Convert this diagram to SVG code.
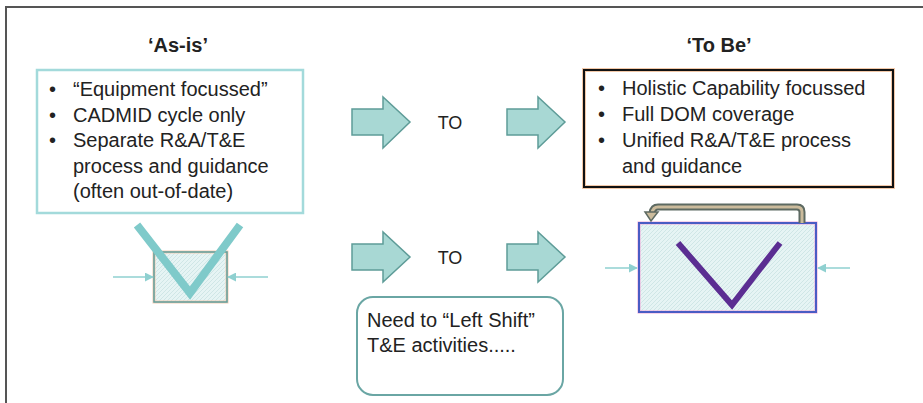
<svg xmlns="http://www.w3.org/2000/svg" width="923" height="403" viewBox="0 0 923 403">
  <defs>
    <style>
      .t { font-family: "Liberation Sans", Arial, sans-serif; fill: #222; }
      .title { font-size: 20px; font-weight: bold; }
      .body { font-size: 20px; }
      .to { font-size: 18px; }
      .blk { fill: #a8d8d4; stroke: #5e9c98; stroke-width: 1.5; }
      .thin { stroke: #8fd0d0; stroke-width: 1.5; fill: none; }
    </style>
    <marker id="ah" viewBox="0 0 10 10" refX="9" refY="5" markerWidth="6" markerHeight="6" orient="auto">
      <path d="M0,0 L10,5 L0,10 z" fill="#8fd0d0"/>
    </marker>
    <pattern id="hatch" width="4" height="4" patternUnits="userSpaceOnUse">
      <rect width="4" height="4" fill="#e6f4f4"/>
      <path d="M0,4 L4,0" stroke="#cfe6e6" stroke-width="1"/>
    </pattern>
  </defs>
  <rect width="923" height="403" fill="#fff"/>

  <!-- frame -->
  <path d="M6,403 L6,7 L923,7" fill="none" stroke="#555" stroke-width="2"/>

  <g id="as-is">
    <text class="t title" x="178" y="52" text-anchor="middle">‘As-is’</text>
    <rect x="37" y="70" width="266" height="143" fill="#fff" stroke="#a3dadb" stroke-width="2.5"/>
    <text class="t body" x="49" y="96">•</text>
    <text class="t body" x="73" y="96">“Equipment focussed”</text>
    <text class="t body" x="49" y="122">•</text>
    <text class="t body" x="73" y="122">CADMID cycle only</text>
    <text class="t body" x="49" y="147">•</text>
    <text class="t body" x="73" y="147">Separate R&amp;A/T&amp;E</text>
    <text class="t body" x="73" y="173">process and guidance</text>
    <text class="t body" x="73" y="198">(often out-of-date)</text>
  </g>

  <g id="to-be">
    <text class="t title" x="719" y="52" text-anchor="middle">‘To Be’</text>
    <rect x="584" y="70" width="309" height="117" fill="#fff" stroke="#f2c8a8" stroke-width="4"/>
    <rect x="584" y="70" width="309" height="117" fill="none" stroke="#111" stroke-width="2"/>
    <text class="t body" x="598" y="95">•</text>
    <text class="t body" x="622" y="95">Holistic Capability focussed</text>
    <text class="t body" x="598" y="121">•</text>
    <text class="t body" x="622" y="121">Full DOM coverage</text>
    <text class="t body" x="598" y="147">•</text>
    <text class="t body" x="622" y="147">Unified R&amp;A/T&amp;E process</text>
    <text class="t body" x="622" y="173">and guidance</text>
  </g>

  <g id="arrow-top-1">
    <path class="blk" d="M352,109 L383,109 L383,97 L410,122 L383,148 L383,135 L352,135 z"/>
  </g>
  <g id="label-to-top">
    <text class="t to" x="450" y="129" text-anchor="middle">TO</text>
  </g>
  <g id="arrow-top-2">
    <path class="blk" d="M507,109 L538,109 L538,97 L565,122 L538,148 L538,135 L507,135 z"/>
  </g>

  <g id="arrow-bot-1">
    <path class="blk" d="M352,244 L383,244 L383,232 L410,257 L383,282 L383,270 L352,270 z"/>
  </g>
  <g id="label-to-bot">
    <text class="t to" x="450" y="264" text-anchor="middle">TO</text>
  </g>
  <g id="arrow-bot-2">
    <path class="blk" d="M507,244 L538,244 L538,232 L565,257 L538,282 L538,270 L507,270 z"/>
  </g>

  <g id="left-shift-note">
    <rect x="357" y="297" width="206" height="98" rx="16" fill="#fff" stroke="#6aa6a4" stroke-width="2"/>
    <text class="t body" x="367" y="327">Need to “Left Shift”</text>
    <text class="t body" x="367" y="352">T&amp;E activities.....</text>
  </g>

  <g id="v-as-is">
    <rect x="154" y="252" width="73" height="50" fill="url(#hatch)" stroke="#f3cdb5" stroke-width="3"/>
    <rect x="154" y="252" width="73" height="50" fill="none" stroke="#5f9e9c" stroke-width="1.5"/>
    <path d="M137,225 L190,293 L240,225" fill="none" stroke="#7fcaca" stroke-width="8" stroke-linejoin="miter"/>
  </g>

  <g id="v-to-be">
    <rect x="639" y="223" width="177" height="89" fill="url(#hatch)" stroke="#f0a8d8" stroke-width="3"/>
    <rect x="639" y="223" width="177" height="89" fill="none" stroke="#4a5cc4" stroke-width="2"/>
    <path d="M678,243 L732,305 L780,243" fill="none" stroke="#5b2d92" stroke-width="6"/>
  </g>

  <g id="connectors">
    <line class="thin" x1="113" y1="277" x2="153" y2="277" marker-end="url(#ah)"/>
    <line class="thin" x1="268" y1="277" x2="228" y2="277" marker-end="url(#ah)"/>
    <line class="thin" x1="605" y1="268" x2="637" y2="268" marker-end="url(#ah)"/>
    <line class="thin" x1="850" y1="268" x2="818" y2="268" marker-end="url(#ah)"/>
    <!-- loop-back arrow -->
    <path d="M802,223 L802,212 Q802,207 797,207 L658,207 Q653,207 652,213" fill="none" stroke="#5d6a62" stroke-width="7"/>
    <path d="M802,223 L802,212 Q802,207 797,207 L658,207 Q653,207 652,213" fill="none" stroke="#cbbb9c" stroke-width="3"/>
    <path d="M645,212 L658,212 L651,221 z" fill="#cbbb9c" stroke="#5d6a62" stroke-width="1.5"/>
  </g>
</svg>
